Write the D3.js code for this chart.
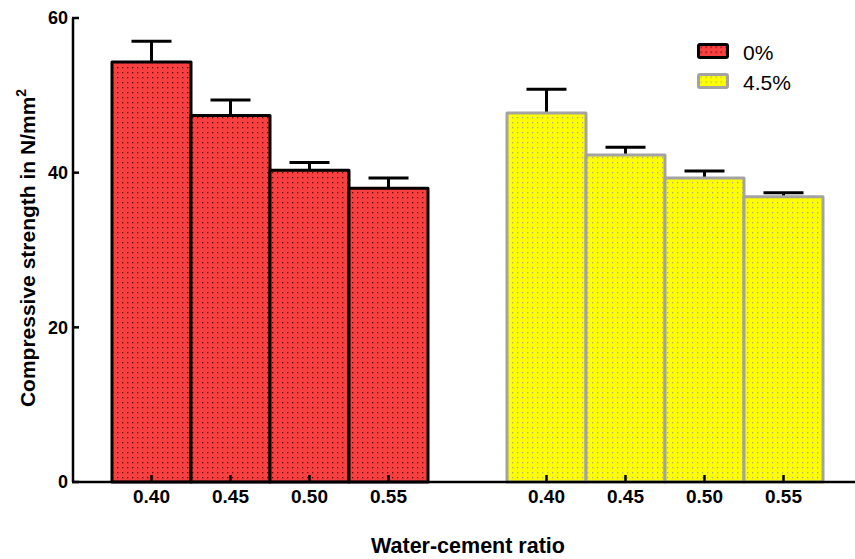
<!DOCTYPE html>
<html>
<head>
<meta charset="utf-8">
<script src="https://cdn.jsdelivr.net/npm/d3@7"></script>
<style>
  body { margin: 0; background: #fff; }
  text { font-family: Arial, "Liberation Sans", sans-serif; }
</style>
</head>
<body>
<svg id="chart" width="855" height="559"></svg>
<script>
// DATA
var ratios = ["0.40", "0.45", "0.50", "0.55"];
var groups = ["0%", "4.5%"];
var strength0 = [54.3, 47.4, 40.3, 38.0];
var error0 = [2.7, 2.0, 1.0, 1.3];
var strength45 = [47.7, 42.3, 39.3, 36.9];
var error45 = [3.1, 1.0, 0.9, 0.5];
var yTicks = [0, 20, 40, 60];

var fills = { "0%": "#f94040", "4.5%": "#ffff00" };
var strokes = { "0%": "#000", "4.5%": "#a3a3a3" };
var dotColors = { "0%": "#5a0000", "4.5%": "#a8a890" };

var rows = [];
ratios.forEach(function(r, i) {
	rows.push({ group: "0%", ratio: r, key: "0%|" + r, value: strength0[i], err: error0[i] });
});
ratios.forEach(function(r, i) {
	rows.push({ group: "4.5%", ratio: r, key: "4.5%|" + r, value: strength45[i], err: error45[i] });
});

// slots: 4 bars, one empty gap, 4 bars
var slots = rows.slice(0, 4).map(function(d) { return d.key; })
	.concat(["gap"])
	.concat(rows.slice(4).map(function(d) { return d.key; }));

var svg = d3.select("#chart");

var x = d3.scaleBand().domain(slots).range([112, 823]).padding(0);
var y = d3.scaleLinear().domain([0, 60]).range([482, 18]);

// dot patterns
var defs = svg.append("defs");
groups.forEach(function(g, i) {
	var p = defs.append("pattern")
		.attr("id", "dots" + i)
		.attr("patternUnits", "userSpaceOnUse")
		.attr("width", 5).attr("height", 5);
	p.append("rect").attr("width", 5).attr("height", 5).attr("fill", fills[g]);
	p.append("rect").attr("x", 2).attr("y", 2).attr("width", 1.3).attr("height", 1.3)
		.attr("fill", dotColors[g]);
});

// error bars (drawn first so bar outline sits over the stem base)
var eb = svg.append("g").selectAll("g").data(rows).enter().append("g");
eb.append("line")
	.attr("x1", function(d) { return x(d.key) + x.bandwidth() / 2; })
	.attr("x2", function(d) { return x(d.key) + x.bandwidth() / 2; })
	.attr("y1", function(d) { return y(d.value); })
	.attr("y2", function(d) { return y(d.value + d.err); })
	.attr("stroke", "#000").attr("stroke-width", 3);
eb.append("line")
	.attr("x1", function(d) { return x(d.key) + x.bandwidth() / 2 - 20; })
	.attr("x2", function(d) { return x(d.key) + x.bandwidth() / 2 + 20; })
	.attr("y1", function(d) { return y(d.value + d.err); })
	.attr("y2", function(d) { return y(d.value + d.err); })
	.attr("stroke", "#000").attr("stroke-width", 3);

// bars
svg.append("g").selectAll("rect").data(rows).enter().append("rect")
	.attr("x", function(d) { return x(d.key); })
	.attr("y", function(d) { return y(d.value); })
	.attr("width", x.bandwidth())
	.attr("height", function(d) { return y(0) - y(d.value); })
	.attr("fill", function(d) { return "url(#dots" + groups.indexOf(d.group) + ")"; })
	.attr("stroke", function(d) { return strokes[d.group]; })
	.attr("stroke-width", 3)
	.attr("stroke-linejoin", "round");

// y axis
var yAxis = svg.append("g").attr("transform", "translate(73,0)");
yAxis.append("line").attr("x1", 0).attr("x2", 0).attr("y1", y(60)).attr("y2", y(0))
	.attr("stroke", "#000").attr("stroke-width", 2.5);
yAxis.selectAll(".tick").data(yTicks).enter().append("line")
	.attr("x1", -1).attr("x2", 6)
	.attr("y1", function(d) { return y(d); }).attr("y2", function(d) { return y(d); })
	.attr("stroke", "#000").attr("stroke-width", 2.5);
yAxis.selectAll(".lbl").data(yTicks).enter().append("text")
	.attr("x", -5).attr("y", function(d) { return y(d); })
	.attr("dy", "0.36em").attr("text-anchor", "end")
	.attr("font-size", 18).attr("font-weight", "bold")
	.text(function(d) { return d; });

// x axis
var xAxis = svg.append("g");
xAxis.append("line").attr("x1", 72).attr("x2", 855).attr("y1", y(0)).attr("y2", y(0))
	.attr("stroke", "#000").attr("stroke-width", 2.5);
xAxis.selectAll(".tick").data(rows).enter().append("line")
	.attr("x1", function(d) { return x(d.key) + x.bandwidth() / 2; })
	.attr("x2", function(d) { return x(d.key) + x.bandwidth() / 2; })
	.attr("y1", y(0)).attr("y2", y(0) - 7)
	.attr("stroke", "#000").attr("stroke-width", 2.5);
xAxis.selectAll(".lbl").data(rows).enter().append("text")
	.attr("x", function(d) { return x(d.key) + x.bandwidth() / 2; })
	.attr("y", 503)
	.attr("text-anchor", "middle")
	.attr("font-size", 19).attr("font-weight", "bold")
	.text(function(d) { return d.ratio; });

// axis titles
svg.append("text")
	.attr("x", 468).attr("y", 553)
	.attr("text-anchor", "middle")
	.attr("font-size", 21.5).attr("font-weight", "bold")
	.text("Water-cement ratio");

var yt = svg.append("text")
	.attr("transform", "translate(35,248) rotate(-90)")
	.attr("text-anchor", "middle")
	.attr("font-size", 21).attr("font-weight", "bold");
yt.append("tspan").text("Compressive strength in N/mm");
yt.append("tspan").attr("dy", -9).attr("font-size", 14).text("2");

// legend
var leg = svg.append("g").selectAll("g").data(groups).enter().append("g")
	.attr("transform", function(d, i) { return "translate(698.5," + (44.5 + i * 30) + ")"; });
leg.append("rect")
	.attr("width", 29).attr("height", 13)
	.attr("rx", 1.5)
	.attr("fill", function(d, i) { return "url(#dots" + i + ")"; })
	.attr("stroke", function(d) { return strokes[d]; })
	.attr("stroke-width", 3);
leg.append("text")
	.attr("x", 44.5).attr("y", 15.5)
	.attr("font-size", 21)
	.text(function(d) { return d; });
</script>
</body>
</html>
